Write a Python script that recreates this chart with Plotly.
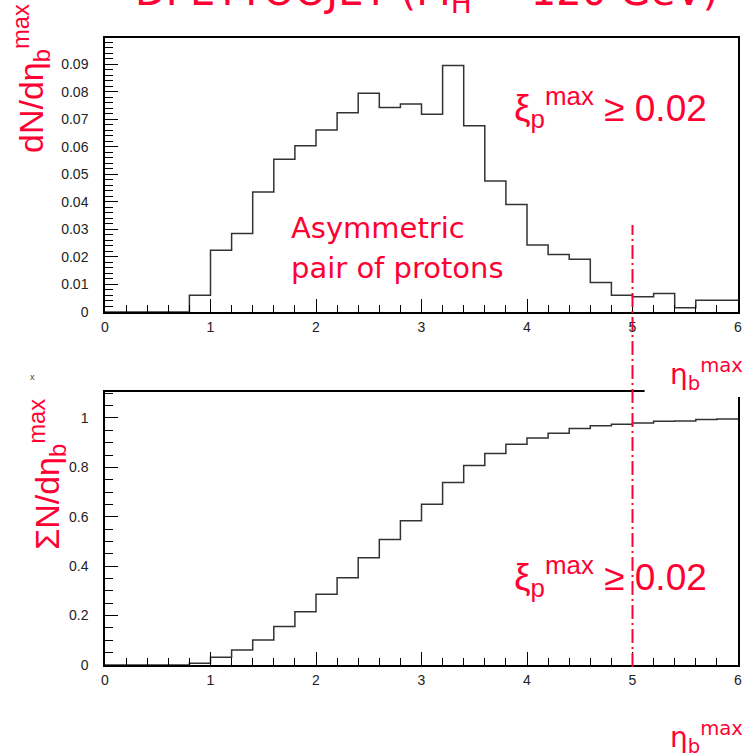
import numpy as np
import plotly.graph_objects as go

# Bin edges of the eta_b^max histograms (30 bins of width 0.2)
eta_edges = np.round(np.arange(0.0, 6.0001, 0.2), 1)

# Normalised distribution dN/d eta_b^max per bin
dn_deta = [0.0, 0.0, 0.0, 0.0,
           0.0061, 0.0224, 0.0285, 0.0436, 0.0555, 0.0604,
           0.0661, 0.0724, 0.0794, 0.0743, 0.0755, 0.0718,
           0.0895, 0.0676, 0.0476, 0.0390, 0.0243, 0.0209,
           0.0192, 0.0107, 0.0061, 0.0055, 0.0067, 0.0015,
           0.0043, 0.0043]

# Cumulative fraction per bin
cum_frac = [0.0, 0.0, 0.0, 0.0,
            0.007, 0.031, 0.061, 0.101, 0.156, 0.216,
            0.286, 0.353, 0.434, 0.508, 0.584, 0.651,
            0.739, 0.807, 0.856, 0.894, 0.919, 0.938,
            0.957, 0.968, 0.974, 0.980, 0.987, 0.988,
            0.994, 0.996]

x_ticks = [0, 1, 2, 3, 4, 5, 6]
eta_cut = 5.0

RED = "#ff0033"
W, H = 749, 753
L, R, T, B = 105, 7, 38, 88
PW, PH = W - L - R, H - T - B


def fx(p):
    return (p - L) / PW


def fy(p):
    return (H - B - p) / PH


def step_xy(vals):
    return list(eta_edges), list(vals) + [vals[-1]]


fig = go.Figure()
hx, hy = step_xy(dn_deta)
fig.add_trace(go.Scatter(x=hx, y=hy, mode="lines", line=dict(shape="hv", color="#333", width=1.5),
                         xaxis="x", yaxis="y", showlegend=False, hoverinfo="skip"))
cx, cy = step_xy(cum_frac)
fig.add_trace(go.Scatter(x=cx, y=cy, mode="lines", line=dict(shape="hv", color="#333", width=1.5),
                         xaxis="x2", yaxis="y2", showlegend=False, hoverinfo="skip"))

tickfont = dict(family="Liberation Sans, Arial, sans-serif", size=14, color="#222")
base = dict(showline=True, linecolor="black", linewidth=1.5, mirror=True, ticks="inside",
            ticklen=13, tickwidth=1.2, tickcolor="black", showgrid=False, zeroline=False,
            tickfont=tickfont)

xax = dict(base, range=[0, 6], tickvals=x_ticks, ticklabelstandoff=1,
           minor=dict(ticks="inside", ticklen=7, tickwidth=1.2, tickcolor="black", dtick=0.2, showgrid=False))

fig.update_layout(
    width=W, height=H,
    margin=dict(l=L, r=R, t=T, b=B),
    paper_bgcolor="white", plot_bgcolor="white",
    xaxis=dict(xax, anchor="y", domain=[0, 1]),
    yaxis=dict(base, range=[0, 0.0995], dtick=0.01, ticklabelstandoff=12, domain=[fy(312), 1], anchor="x",
               minor=dict(ticks="inside", ticklen=8, tickwidth=1.2, tickcolor="black", dtick=0.002, showgrid=False)),
    xaxis2=dict(xax, anchor="y2", domain=[0, 1]),
    yaxis2=dict(base, range=[0, 1.105], dtick=0.2, ticklabelstandoff=12, domain=[0, fy(392)], anchor="x2",
                minor=dict(ticks="inside", ticklen=8, tickwidth=1.2, tickcolor="black", dtick=0.05, showgrid=False)),
)

# eta_b^max cut shown across both panels
fig.add_shape(type="line", xref="x", x0=eta_cut, x1=eta_cut, yref="paper", y0=fy(667), y1=fy(225),
              line=dict(color=RED, width=2, dash="14px,4px,2px,4px"), layer="above")
# white patch behind the eta label over the lower frame corner
fig.add_shape(type="rect", xref="paper", x0=fx(648), x1=fx(760), yref="paper", y0=fy(397), y1=fy(338),
              fillcolor="white", line=dict(width=0), layer="above")

redfont = "Comic Sans MS, DejaVu Sans, sans-serif"
sansfont = "Liberation Sans, Arial, sans-serif"


def note(text, x, y, size, family, xanchor="left", yanchor="middle", angle=0, color=RED):
    fig.add_annotation(text=text, x=x, y=y, xref="paper", yref="paper", showarrow=False,
                       xanchor=xanchor, yanchor=yanchor, textangle=angle,
                       font=dict(size=size, family=family, color=color))


note("DPETTOOJET (M<sub>H</sub> = 120 GeV)", fx(429), fy(22), 40, redfont, xanchor="center", yanchor="bottom")
note("dN/dη<sub>b</sub><sup>max</sup>", fx(30), fy(155), 34, sansfont, xanchor="center", yanchor="bottom", angle=-90)
note("ΣN/dη<sub>b</sub><sup>max</sup>", fx(46), fy(552), 34, sansfont, xanchor="center", yanchor="bottom", angle=-90)
note("Asymmetric", fx(290), fy(228), 29, redfont)
note("pair of protons", fx(290), fy(268), 29, redfont)
note("ξ<sub>p</sub><sup>max</sup> ≥ 0.02", fx(515), fy(108), 37, sansfont)
note("ξ<sub>p</sub><sup>max</sup> ≥ 0.02", fx(515), fy(576), 37, sansfont)
note("η<sub>b</sub><sup>max</sup>", fx(749), fy(374), 28, redfont, xanchor="right")
note("η<sub>b</sub><sup>max</sup>", fx(749), fy(737), 28, redfont, xanchor="right")
note("x", fx(32), fy(377), 9, sansfont, xanchor="center", color="#444")

fig.write_html("out.html")
